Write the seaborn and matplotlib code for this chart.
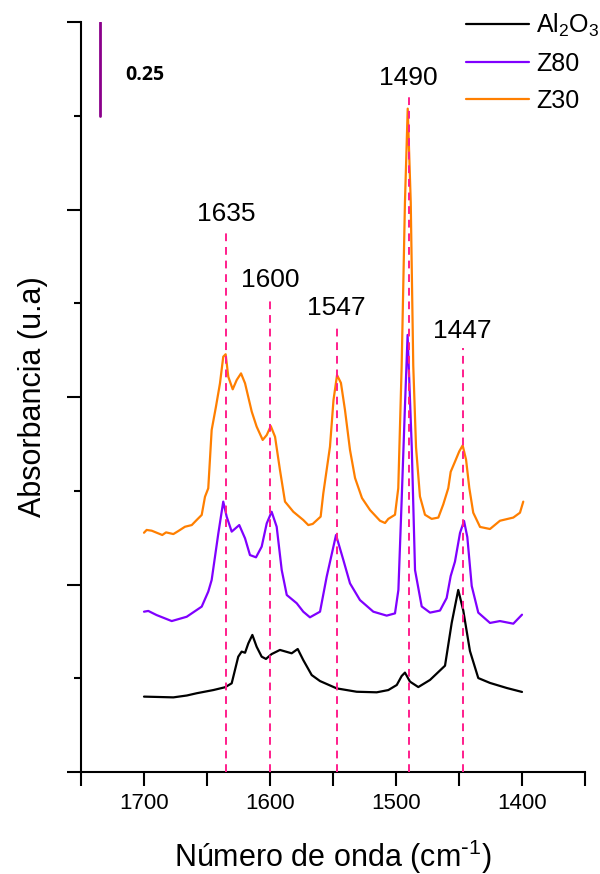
import numpy as np
import pandas as pd
import seaborn as sns
import matplotlib.pyplot as plt
from matplotlib.ticker import MultipleLocator

# --- DATI ---
wn_al2o3 = [1700, 1688.0, 1676.7, 1666.0, 1658.2, 1645.0, 1635.7, 1630.4, 1625.2, 1622.5, 1619.8, 1617.2,
            1614.0, 1610.6, 1606.6, 1603.2, 1598.7, 1592.1, 1582.8, 1578.0, 1573.6, 1566.9,
            1560.3, 1547.1, 1531.2, 1515.3, 1506.1, 1499.4, 1495.5, 1492.9, 1488.9, 1482.3,
            1473.0, 1461.1, 1455.8, 1450.6, 1446.6, 1441.3, 1434.7, 1425.4, 1412.1, 1400]
abs_al2o3 = [0.402, 0.400, 0.398, 0.408, 0.420, 0.437, 0.452, 0.473, 0.615, 0.642, 0.636, 0.686,
             0.731, 0.668, 0.615, 0.603, 0.629, 0.651, 0.633, 0.656, 0.597, 0.517,
             0.485, 0.446, 0.428, 0.425, 0.437, 0.464, 0.512, 0.530, 0.482, 0.453,
             0.491, 0.567, 0.795, 0.971, 0.861, 0.645, 0.501, 0.475, 0.448, 0.427]

wn_z80 = [1700, 1696.6, 1690.0, 1678.0, 1666.1, 1654.2, 1649.0, 1646.3, 1641.0, 1637.1,
          1634.4, 1630.4, 1624.4, 1619.8, 1615.9, 1611.1, 1606.6, 1602.6, 1598.7, 1594.7,
          1590.7, 1586.7, 1578.8, 1573.6, 1568.3, 1560.3, 1555.0, 1547.6, 1541.8, 1536.5,
          1528.6, 1518.0, 1507.4, 1500.8, 1498.1, 1495.5, 1492.9, 1490.8, 1487.5, 1484.9,
          1479.6, 1473.0, 1465.1, 1459.8, 1456.6, 1453.2, 1449.2, 1446.0, 1443.4, 1439.9,
          1434.7, 1425.4, 1417.5, 1406.9, 1400]
abs_z80 = [0.855, 0.859, 0.837, 0.805, 0.828, 0.882, 0.962, 1.024, 1.273, 1.442,
           1.362, 1.282, 1.317, 1.246, 1.157, 1.145, 1.202, 1.326, 1.388, 1.308,
           1.077, 0.944, 0.900, 0.855, 0.825, 0.855, 1.042, 1.264, 1.131, 1.006,
           0.917, 0.855, 0.834, 0.846, 0.971, 1.451, 1.949, 2.331, 1.733, 1.077,
           0.883, 0.850, 0.861, 0.928, 1.045, 1.122, 1.275, 1.339, 1.253, 0.992,
           0.850, 0.795, 0.805, 0.791, 0.839]

wn_z30 = [1700, 1697.9, 1693.9, 1689.9, 1685.5, 1682.5, 1676.7, 1672.8, 1667.5, 1662.1,
          1658.2, 1654.2, 1651.6, 1649.0, 1646.3, 1642.9, 1639.7, 1637.1, 1635.2, 1633.1,
          1629.6, 1626.4, 1623.0, 1619.8, 1614.5, 1610.6, 1605.8, 1602.6, 1599.4, 1596.0,
          1592.1, 1588.1, 1581.5, 1573.6, 1569.6, 1566.1, 1559.8, 1557.7, 1552.4, 1549.6,
          1546.8, 1543.7, 1540.5, 1536.5, 1532.5, 1527.0, 1520.6, 1512.7, 1508.7, 1506.1,
          1500.8, 1498.2, 1495.5, 1492.9, 1490.7, 1488.3, 1486.3, 1484.1, 1481.0, 1477.0,
          1471.7, 1466.4, 1462.5, 1458.5, 1456.6, 1453.2, 1449.8, 1447.1, 1444.4, 1441.8,
          1438.7, 1433.3, 1425.4, 1417.5, 1406.9, 1401.6, 1399]
abs_z30 = [1.276, 1.291, 1.287, 1.276, 1.264, 1.278, 1.269, 1.285, 1.308, 1.317,
           1.344, 1.371, 1.468, 1.513, 1.824, 1.948, 2.073, 2.215, 2.228, 2.108,
           2.041, 2.091, 2.126, 2.073, 1.922, 1.842, 1.771, 1.797, 1.845, 1.788,
           1.611, 1.442, 1.388, 1.344, 1.317, 1.323, 1.362, 1.486, 1.735, 1.984,
           2.117, 2.075, 1.931, 1.717, 1.568, 1.461, 1.397, 1.340, 1.328, 1.350,
           1.372, 1.514, 2.167, 3.038, 3.538, 3.038, 2.167, 1.732, 1.470, 1.372,
           1.350, 1.357, 1.427, 1.514, 1.601, 1.655, 1.710, 1.742, 1.666, 1.514,
           1.383, 1.307, 1.296, 1.340, 1.357, 1.383, 1.442]

muestras = ['Al$_2$O$_3$', 'Z80', 'Z30']
colores = ['black', '#8000ff', '#ff7f00']

# bande marcate (posizione, altezza della linea tratteggiata)
picchi = [1635, 1600, 1547, 1490, 1447]
altezza_picchi = [2.88, 2.53, 2.38, 3.61, 2.26]

# barra di scala
scala_x = 1735
scala_y = [3.5, 4.0]
scala_testo = '0.25'

# --- DATAFRAME ---
df = pd.concat([
    pd.DataFrame({'wn': wn_al2o3, 'abs': abs_al2o3, 'muestra': muestras[0]}),
    pd.DataFrame({'wn': wn_z80, 'abs': abs_z80, 'muestra': muestras[1]}),
    pd.DataFrame({'wn': wn_z30, 'abs': abs_z30, 'muestra': muestras[2]}),
])

# --- GRAFICO ---
sns.set_style('ticks')
plt.rcParams['font.family'] = ['Liberation Sans', 'DejaVu Sans']
plt.rcParams['mathtext.default'] = 'regular'
for k in ['text.color', 'axes.labelcolor', 'xtick.color', 'ytick.color', 'axes.edgecolor']:
    plt.rcParams[k] = 'black'

fig = plt.figure(figsize=(6, 8.74), dpi=100)
ax = fig.add_axes([81 / 600, 102 / 874, 504 / 600, 750 / 874])

sns.lineplot(data=df, x='wn', y='abs', hue='muestra', hue_order=muestras,
             palette=dict(zip(muestras, colores)), estimator=None, errorbar=None,
             linewidth=1.6, ax=ax)

for p, h in zip(picchi, altezza_picchi):
    ax.plot([p, p], [0, h], color='#ff1e8c', linestyle=(0, (4, 3)), linewidth=1.4, zorder=3)
    ax.annotate(str(p), xy=(p, h), xytext=(0, 4), textcoords='offset points',
                ha='center', va='bottom', fontsize=19)

# barra di scala
ax.plot([scala_x, scala_x], scala_y, color='#8b008b', linewidth=2)
ax.text(1715, np.mean(scala_y) - 0.03, scala_testo, fontsize=14, fontweight='bold',
        family='Open Sans', va='center', ha='left')

ax.set_xlim(1750, 1350)
ax.set_ylim(0, 4)
ax.set_xticks([1700, 1600, 1500, 1400])
ax.xaxis.set_minor_locator(MultipleLocator(50))
ax.yaxis.set_major_locator(MultipleLocator(1))
ax.yaxis.set_minor_locator(MultipleLocator(0.5))
ax.tick_params(axis='x', which='both', direction='out', length=10, width=1.5,
               labelsize=16, pad=5)
ax.tick_params(axis='y', which='major', direction='out', length=10, width=1.5, labelleft=False)
ax.tick_params(axis='y', which='minor', direction='out', length=5, width=1.5)

ax.set_xlabel(r'Número de onda (cm$^{\text{-}1}$)', fontsize=22, labelpad=17)
ax.set_ylabel('Absorbancia (u.a)', fontsize=22, labelpad=14)

sns.despine(ax=ax)
for s in ['left', 'bottom']:
    ax.spines[s].set_linewidth(1.5)

handles, labels = ax.get_legend_handles_labels()
ax.legend(handles, labels, loc='upper left', bbox_to_anchor=(466 / 600, 0.987),
          bbox_transform=fig.transFigure, frameon=False, fontsize=18,
          handlelength=2.5, handletextpad=0.3, labelspacing=0.52,
          borderpad=0, borderaxespad=0)

plt.savefig('out.png', dpi=100)
plt.close(fig)
